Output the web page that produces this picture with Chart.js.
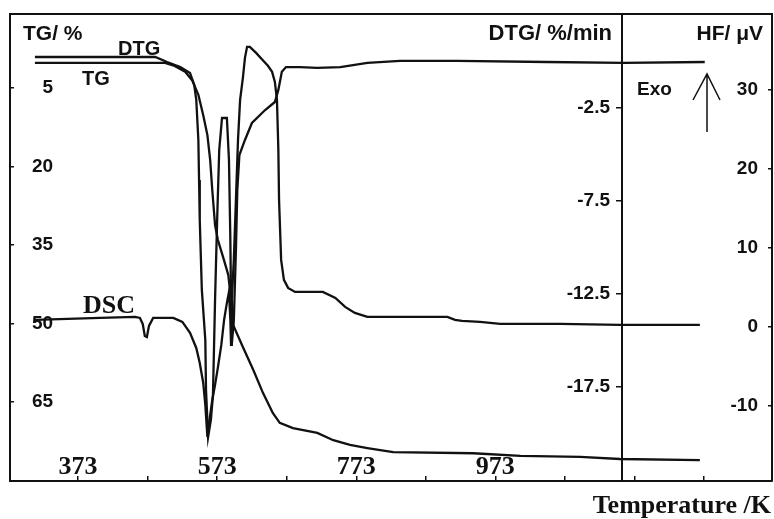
<!DOCTYPE html>
<html lang="en">
<head>
    <meta charset="UTF-8">
    <title>TG / DTG / DSC</title>
    <script src="https://cdn.jsdelivr.net/npm/chart.js"></script>
    <style>
        body { margin: 0; background: #fff; }
    </style>
</head>
<body>
    <canvas id="thermoChart" width="774" height="519"></canvas>

    <script>
        // temperature ticks (K) and axis ticks
        const tempTicks = [373, 473, 573, 673, 773, 873, 973, 1073, 1173, 1273];
        const tempLabels = [373, 573, 773, 973];
        const tgTicks = [5, 20, 35, 50, 65];
        const dtgTicks = [-2.5, -7.5, -12.5, -17.5];
        const hfTicks = [30, 20, 10, 0, -10];

        // TG curve: temperature (K) / mass loss (%)
        const tgTemp = [311, 498, 512, 527, 537, 546, 553, 559, 563, 566,
            570, 574, 582, 589, 593, 596, 610, 625, 639, 653,
            663, 682, 717, 740, 764, 789, 826, 941, 1009, 1095,
            1152, 1267];
        const tgLoss = [0.2, 0.2, 0.8, 1.9, 3.5, 6.3, 10.2, 14.0, 18.8, 24.5,
            31.2, 34.0, 37.5, 40.7, 45.5, 50.3, 54.5, 58.9, 63.3, 67.1,
            69.0, 70.0, 70.9, 72.3, 73.2, 73.8, 74.6, 74.8, 75.3, 75.5,
            75.9, 76.1];

        // DTG curve: temperature (K) / rate (%/min)
        const dtgTemp = [311, 484, 501, 520, 534, 540, 543, 546, 547, 548,
            551, 556, 557, 560, 564, 567, 570, 573, 576, 580,
            587, 590, 592, 593, 594, 597, 600, 602, 605, 613,
            623, 642, 656, 661, 666, 672, 692, 717, 750, 789,
            836, 918, 1047, 1157, 1274];
        const dtgRate = [0.24, 0.24, -0.03, -0.30, -0.62, -1.26, -2.07, -4.22, -6.37, -8.52,
            -12.28, -14.97, -17.66, -20.19, -19.27, -17.93, -12.82, -8.52, -4.76, -3.04,
            -3.04, -5.30, -9.60, -12.82, -15.24, -13.90, -10.13, -6.91, -5.03, -4.22,
            -3.31, -2.61, -2.18, -1.53, -0.56, -0.30, -0.30, -0.35, -0.30, -0.08,
            0.03, 0.03, -0.03, -0.08, -0.03];

        // DSC curve: temperature (K) / heat flow (uV)
        const dscTemp = [311, 405, 455, 462, 466, 469, 472, 475, 481, 510,
            523, 534, 543, 548, 553, 556, 559, 561, 566, 570,
            574, 579, 583, 587, 590, 592, 593, 594, 597, 600,
            603, 606, 610, 613, 616, 620, 629, 638, 646, 652,
            656, 659, 661, 662, 665, 669, 675, 685, 725, 743,
            757, 771, 789, 904, 915, 925, 951, 980, 1066, 1152,
            1267];
        const dscFlow = [0.89, 1.14, 1.27, 1.14, 0.38, -1.14, -1.27, 0.13, 1.14, 1.14,
            0.63, -0.76, -2.66, -4.56, -7.09, -9.87, -13.92, -12.41, -9.24, -7.34,
            -5.19, -2.28, 0.89, 3.04, 4.43, 0.89, -2.28, 3.42, 8.48, 16.08,
            23.67, 28.73, 31.52, 34.05, 35.44, 35.44, 34.68, 33.80, 33.04, 32.28,
            31.01, 28.73, 22.41, 16.08, 8.48, 5.95, 4.94, 4.43, 4.43, 3.67,
            2.53, 1.77, 1.27, 1.27, 0.89, 0.76, 0.63, 0.38, 0.38, 0.25,
            0.25];

        const ink = '#111';
        const sans = '"Liberation Sans", Arial, sans-serif';
        const serif = '"Liberation Serif", "Times New Roman", serif';

        function pairs(xs, ys) {
            return xs.map((x, i) => ({ x: x, y: ys[i] }));
        }

        // axes sit on the frame and take no room in the layout
        function flatten(scale) {
            if (scale.isHorizontal()) {
                scale.height = 0;
            } else {
                scale.width = 0;
            }
            scale.paddingTop = 0;
            scale.paddingBottom = 0;
            scale.paddingLeft = 0;
            scale.paddingRight = 0;
        }

        function fixedTicks(values) {
            return function (scale) {
                scale.ticks = values.map(v => ({ value: v }));
            };
        }

        // texts and the Exo arrow
        const notes = {
            id: 'notes',
            afterDraw(chart) {
                const ctx = chart.ctx;
                ctx.save();
                ctx.fillStyle = ink;
                ctx.strokeStyle = ink;
                ctx.textBaseline = 'alphabetic';

                ctx.textAlign = 'left';
                ctx.font = 'bold 21px ' + sans;
                ctx.fillText('TG/ %', 23, 40);
                ctx.font = 'bold 20px ' + sans;
                ctx.fillText('DTG', 118, 55);
                ctx.fillText('TG', 82, 85);
                ctx.font = 'bold 19px ' + sans;
                ctx.fillText('Exo', 637, 95);
                ctx.font = 'bold 26px ' + serif;
                ctx.fillText('DSC', 83, 313);

                ctx.textAlign = 'right';
                ctx.font = 'bold 22px ' + sans;
                ctx.fillText('DTG/ %/min', 612, 40);
                ctx.font = 'bold 21px ' + sans;
                ctx.fillText('HF/ \u03BCV', 763, 40);
                ctx.font = 'bold 26px ' + serif;
                ctx.fillText('Temperature /K', 771, 513);

                ctx.lineWidth = 1.5;
                ctx.beginPath();
                ctx.moveTo(707, 132);
                ctx.lineTo(707, 74);
                ctx.moveTo(693, 100);
                ctx.lineTo(707, 74);
                ctx.lineTo(720, 100);
                ctx.stroke();
                ctx.restore();
            }
        };

        function lineSet(label, data, axis) {
            return {
                label: label,
                data: data,
                yAxisID: axis,
                showLine: true,
                borderColor: ink,
                borderWidth: 2.3,
                pointRadius: 0,
                tension: 0,
                fill: false
            };
        }

        const frameBorder = { display: true, color: ink, width: 2 };
        const tickFont = { family: sans, size: 19, weight: 'bold' };

        new Chart(document.getElementById('thermoChart').getContext('2d'), {
            type: 'scatter',
            data: {
                datasets: [
                    lineSet('TG', pairs(tgTemp, tgLoss), 'yTG'),
                    lineSet('DTG', pairs(dtgTemp, dtgRate), 'yDTG'),
                    lineSet('DSC', pairs(dscTemp, dscFlow), 'yHF')
                ]
            },
            options: {
                responsive: false,
                animation: false,
                layout: { autoPadding: false, padding: { left: 10, top: 14, right: 2, bottom: 38 } },
                plugins: { legend: { display: false }, tooltip: { enabled: false } },
                scales: {
                    x: {
                        type: 'linear',
                        position: 'bottom',
                        min: 275.2,
                        max: 1370.7,
                        afterBuildTicks: fixedTicks(tempTicks),
                        afterFit: flatten,
                        border: frameBorder,
                        grid: { drawOnChartArea: false, drawTicks: true, tickLength: -5, color: ink, lineWidth: 1.5 },
                        ticks: {
                            mirror: true,
                            padding: -2,
                            maxRotation: 0,
                            autoSkip: false,
                            color: ink,
                            font: { family: serif, size: 26, weight: 'bold' },
                            callback: v => tempLabels.includes(v) ? String(v) : ''
                        }
                    },
                    xTop: {
                        type: 'linear',
                        position: 'top',
                        min: 275.2,
                        max: 1370.7,
                        afterFit: flatten,
                        border: frameBorder,
                        grid: { drawOnChartArea: false, drawTicks: false },
                        ticks: { display: false }
                    },
                    yTG: {
                        type: 'linear',
                        position: 'left',
                        reverse: true,
                        min: -9.14,
                        max: 80.1,
                        afterBuildTicks: fixedTicks(tgTicks),
                        afterFit: flatten,
                        border: frameBorder,
                        grid: { drawOnChartArea: false, drawTicks: true, tickLength: -4, color: ink, lineWidth: 1.5 },
                        ticks: { mirror: true, crossAlign: 'far', padding: 22, color: ink, font: tickFont }
                    },
                    // DTG values, labels right-aligned just left of the divider
                    yDTG: {
                        type: 'linear',
                        position: { x: 1137.8 },
                        min: -22.55,
                        max: 2.55,
                        afterBuildTicks: fixedTicks(dtgTicks),
                        afterFit: flatten,
                        border: { display: false },
                        grid: { drawOnChartArea: false, drawTicks: false },
                        ticks: { padding: 0, color: ink, font: tickFont, callback: v => v.toFixed(1) }
                    },
                    // divider line with the DTG tick marks
                    yDivider: {
                        type: 'linear',
                        position: { x: 1155.1 },
                        min: -22.55,
                        max: 2.55,
                        afterBuildTicks: fixedTicks(dtgTicks),
                        afterFit: flatten,
                        border: frameBorder,
                        grid: { drawOnChartArea: false, drawTicks: true, tickLength: 5, color: ink, lineWidth: 1.5 },
                        ticks: { display: false }
                    },
                    yHF: {
                        type: 'linear',
                        position: 'right',
                        min: -19.5,
                        max: 39.6,
                        afterBuildTicks: fixedTicks(hfTicks),
                        afterFit: flatten,
                        border: frameBorder,
                        grid: { drawOnChartArea: false, drawTicks: true, tickLength: -4, color: ink, lineWidth: 1.5 },
                        ticks: { mirror: true, padding: -14, color: ink, font: tickFont }
                    }
                }
            },
            plugins: [notes]
        });
    </script>
</body>
</html>
